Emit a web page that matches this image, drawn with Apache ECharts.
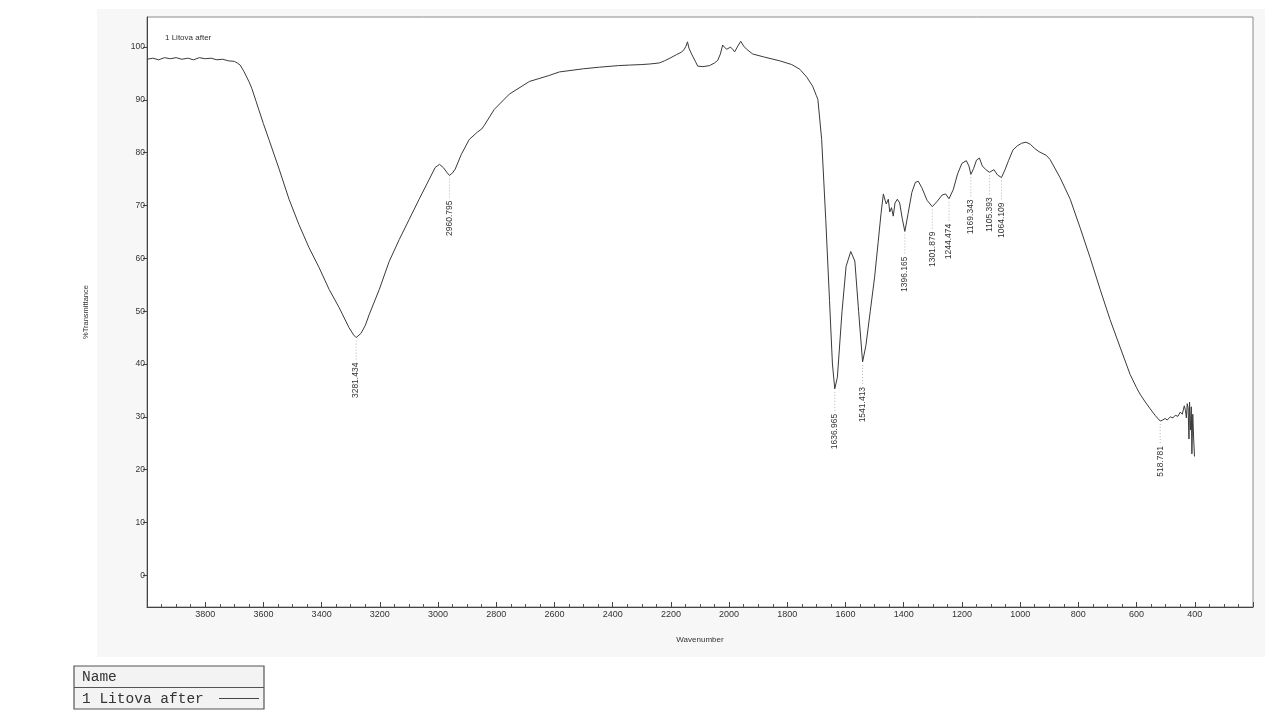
<!DOCTYPE html>
<html>
<head>
<meta charset="utf-8">
<script src="https://cdn.jsdelivr.net/npm/echarts@6/dist/echarts.min.js"></script>
<style>
html,body{margin:0;padding:0;background:#ffffff;}
#chart{width:1280px;height:721px;}
</style>
</head>
<body>
<div id="chart"></div>
<script>
// Spectrum: wavenumber (cm-1) and % transmittance
const wavenumbers = [
4000,3980,3960,3940,3920,3900,3880,3860,3840,3820,3800,3780,3760,3740,3720,3700,3690,3680,3667,3650,3640,3625,3615,3600,3581,3546,3512,3478,3443,3409,3374,3340,3306,3290,3281.434,3265,3250,3237,3202,3168,3133,3099,3065,3030,3010,2995,2982,2970,2960.795,2950,2941,2920,2893,2865,2850,2841,2807,2755,2686,2620,2583,2500,2445,2380,2342,2300,2273,2240,2222,2200,2180,2165,2155,2148,2143,2138,2129,2115,2108,2090,2067,2050,2039,2030,2022,2015,2008,1995,1988,1981,1970,1960,1950,1940,1919,1878,1826,1785,1757,1733,1713,1700,
1695,1682,1668,1655,1645,1636.965,1628,1612,1598,1582,1568,1555,1541.413,1530,1515,1500,1488,1478,1470,1464,1460,1453,1448,1442,1436,1430,1422,1414,1405,1396.165,1385,1372,1360,1350,1338,1320,1301.879,1285,1268,1256,1244.474,1230,1215,1200,1185,1176,1169.343,1160,1150,1140,1130,1118,1105.393,1090,1078,1064.109,1052,1040,1025,1010,995,980,965,950,935,
910,897,863,828,794,760,725,691,656,622,600,588,570,553,535,518.781,510,502,495,484,475,467,458,450,443,436,432,429,426,423,420,418,415,412,410,407,404,401
];
const transmittance = [
97.7,97.9,97.6,98.0,97.8,98.0,97.7,97.9,97.6,98.0,97.8,97.9,97.6,97.7,97.4,97.3,97.0,96.6,95.4,93.5,92.2,89.7,88.0,85.5,82.5,76.9,71.2,66.4,62.0,58.3,54.1,50.7,46.9,45.5,45.0,45.8,47.3,49.3,54.1,59.4,63.6,67.4,71.2,75.0,77.2,77.8,77.2,76.3,75.7,76.2,76.9,79.7,82.5,83.9,84.5,85.2,88.2,91.1,93.5,94.6,95.3,95.9,96.2,96.5,96.6,96.7,96.8,97.0,97.4,98.0,98.6,99.0,99.5,100.2,101.0,99.8,98.7,97.2,96.4,96.3,96.5,97.0,97.5,98.7,100.4,99.9,99.6,100.0,99.6,99.1,100.2,101.1,100.2,99.6,98.7,98.1,97.4,96.7,95.8,94.3,92.6,90.8,
90.1,82.5,67.4,52.0,40.0,35.3,37.5,50.0,58.5,61.3,59.5,50.0,40.4,43.5,50.0,56.5,63.0,68.5,72.2,71.0,70.3,71.2,68.8,69.6,68.0,70.5,71.2,70.5,67.5,65.1,68.5,72.5,74.4,74.6,73.4,71.0,69.8,70.8,72.0,72.2,71.3,73.0,76.0,78.0,78.5,77.5,75.9,77.0,78.6,79.0,77.5,76.8,76.3,76.8,75.8,75.3,76.8,78.5,80.5,81.3,81.8,82.0,81.6,80.8,80.2,
79.5,78.7,75.3,71.2,65.8,60.2,54.1,48.4,43.1,38.0,35.5,34.3,32.8,31.5,30.2,29.2,29.4,29.7,29.4,30.0,29.8,30.3,30.1,30.9,30.5,32.1,31.2,29.8,32.5,31.7,25.8,32.8,27.5,31.9,23.0,30.5,26.0,22.5
];
// Labelled peaks
const peakWavenumbers = [3281.434, 2960.795, 1636.965, 1541.413, 1396.165, 1301.879, 1244.474, 1169.343, 1105.393, 1064.109, 518.781];
const peakValues      = [45.0, 75.7, 35.3, 40.4, 65.1, 69.8, 71.3, 75.9, 76.3, 75.3, 29.2];
const peakLabels      = ['3281.434','2960.795','1636.965','1541.413','1396.165','1301.879','1244.474','1169.343','1105.393','1064.109','518.781'];
// Axis ticks
const yTickValues = [0,10,20,30,40,50,60,70,80,90,100];
const titleText = '1 Litova after';
const legendHeader = 'Name';
const legendEntry = '1 Litova after';

const chart = echarts.init(document.getElementById('chart'), null, {renderer:'canvas'});
const lineData = wavenumbers.map((w,i)=>[w, transmittance[i]]);
const peakData = peakWavenumbers.map((w,i)=>[w, peakValues[i], i]);
const gap = 25;

chart.setOption({
  animation: false,
  backgroundColor: '#ffffff',
  textStyle: {fontFamily: 'Liberation Sans'},
  title: {
    text: titleText, left: 160, top: 29,
    textStyle: {fontSize: 8, fontWeight: 'normal', color: '#333', fontFamily: 'Liberation Sans'}
  },
  grid: {
    left: 147, right: 27, top: 17, bottom: 114,
    show: true, backgroundColor: '#ffffff', borderColor: '#8a8a8a', borderWidth: 1
  },
  xAxis: {
    type: 'value', inverse: true, min: 200, max: 4000, interval: 200,
    name: 'Wavenumber', nameLocation: 'middle', nameGap: 29,
    nameTextStyle: {fontSize: 8, color: '#333'},
    axisLine: {show: true, onZero: false, lineStyle: {color: '#444', width: 1}},
    axisTick: {show: true, inside: true, length: 5, lineStyle: {color: '#444'}},
    minorTick: {show: true, splitNumber: 4, length: 3, lineStyle: {color: '#555'}},
    axisLabel: {showMinLabel: false, showMaxLabel: false, fontSize: 9, color: '#333', margin: 3,
                formatter: function (v) { return String(v); }},
    splitLine: {show: false}
  },
  yAxis: {
    type: 'value', min: -6, max: 105.7,
    name: '%Transmittance', nameLocation: 'middle', nameGap: 57,
    nameTextStyle: {fontSize: 7.5, color: '#333'},
    axisLine: {show: true, onZero: false, lineStyle: {color: '#444', width: 1}},
    axisTick: {show: true, inside: false, length: 4, customValues: yTickValues, lineStyle: {color: '#444'}},
    axisLabel: {fontSize: 8.5, color: '#333', margin: 2, customValues: yTickValues},
    splitLine: {show: false}
  },
  graphic: [
    {type: 'rect', z: -10, silent: true, shape: {x: 97, y: 9, width: 1168, height: 648}, style: {fill: '#f7f7f7'}},
    {type: 'rect', z: 10, shape: {x: 74, y: 666, width: 190, height: 43}, style: {fill: '#f3f3f3', stroke: '#555', lineWidth: 1.2}},
    {type: 'line', z: 10, shape: {x1: 74, y1: 687.5, x2: 264, y2: 687.5}, style: {stroke: '#555', lineWidth: 1.2}},
    {type: 'text', z: 11, x: 82, y: 677, style: {text: legendHeader, fontFamily: 'Liberation Mono', fontSize: 14.5, fill: '#333', verticalAlign: 'middle'}},
    {type: 'text', z: 11, x: 82, y: 699, style: {text: legendEntry, fontFamily: 'Liberation Mono', fontSize: 14.5, fill: '#333', verticalAlign: 'middle'}},
    {type: 'line', z: 11, shape: {x1: 219, y1: 698.5, x2: 259, y2: 698.5}, style: {stroke: '#444', lineWidth: 1}}
  ],
  series: [
    {
      type: 'line', data: lineData, showSymbol: false, smooth: false,
      lineStyle: {color: '#3a3a3a', width: 1}, z: 3
    },
    {
      type: 'custom', coordinateSystem: 'cartesian2d', data: peakData, z: 4,
      renderItem: function (params, api) {
        const p = api.coord([api.value(0), api.value(1)]);
        const label = peakLabels[api.value(2)];
        return {
          type: 'group',
          children: [
            {type: 'line', shape: {x1: p[0], y1: p[1] + 3, x2: p[0], y2: p[1] + gap - 1},
             style: {stroke: '#b5b5b5', lineWidth: 1, lineDash: [1, 2]}},
            {type: 'text', x: p[0], y: p[1] + gap, rotation: Math.PI / 2,
             style: {text: label, x: 0, y: 0, align: 'right', verticalAlign: 'middle',
                     fontSize: 8.5, fill: '#333', fontFamily: 'Liberation Sans'}}
          ]
        };
      }
    }
  ]
});
</script>
</body>
</html>
